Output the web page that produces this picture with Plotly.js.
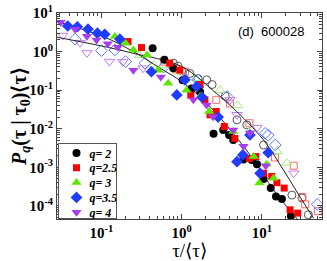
<!DOCTYPE html>
<html><head><meta charset="utf-8">
<script src="https://cdn.plot.ly/plotly-3.0.1.min.js"></script>
<style>html,body{margin:0;padding:0;background:#fff}</style>
</head><body><div id="chart" style="width:327px;height:261px"></div>
<script>
// filled markers (lower curve)
var q2x = [0.435,0.61,0.787,1.03,1.33,1.7,2.5,3.3,3.9,4.4,5.9,7.5,8.7,10.5,12.9,15,17.8,23];
var q2y = [1.22,0.61,0.37,0.18,0.11,0.091,0.0074,0.0093,0.0069,0.0051,0.0016,0.00155,0.0012,5e-4,2.9e-4,1.75e-4,1.5e-4,5.5e-5];
var q25x = [0.215,0.316,0.71,0.95,1.3,1.7,1.95,2.26,2.7,3.4,4.6,7,8.4,10.5,13.3,15.4,19,22.5,28];
var q25y = [1.82,1.27,0.5,0.33,0.074,0.14,0.056,0.023,0.028,0.0114,0.0056,0.0017,0.0019,7e-4,5.8e-4,4e-4,2.9e-4,7.9e-5,6.5e-5];
var q3x = [0.147,0.2,0.25,0.37,0.51,0.68,1.15,1.7,2.2,4.4,7.9,9.3,11.5,14];
var q3y = [2.45,1.64,1.1,0.82,0.33,0.15,0.1,0.068,0.028,0.0085,0.0019,3.9e-4,0.0012,5.2e-4];
var q35x = [0.038,0.05,0.068,0.089,0.11,0.17,0.42,0.87,1.1,1.54,1.8,2.85,4.9,5.8,7.1,9.5,12];
var q35y = [4.6,4.4,3.8,3.0,2.8,2.1,0.30,0.075,0.185,0.124,0.065,0.02,0.0014,0.0021,0.0069,7e-4,0.0024];
var q4x = [0.031,0.047,0.066,0.087,0.12,0.16,0.25,0.55,1.4,2.05,2.46,4.4,5.9,7.1,11.2];
var q4y = [5.8,3.8,2.5,2.0,1.6,1.3,0.33,0.22,0.056,0.041,0.0205,0.0093,0.0035,0.0078,0.0011];
// open markers (upper curve)
var o2x = [0.79,0.9,1.0,1.27,1.6,2.05,2.4,3.5,4.9,6.5,10.5,23.7,31.6,38];
var o2y = [0.5,0.42,0.32,0.27,0.2,0.185,0.14,0.07,0.017,0.0126,0.0038,1.9e-4,1.6e-4,5.9e-5];
var o25x = [0.6,0.85,1.1,2.7,4.0,7,14.6,25,32,34.7,50];
var o25y = [0.55,0.35,0.3,0.056,0.045,0.0139,0.0018,0.0011,1.7e-4,1.1e-4,7.3e-5];
var o3x = [0.3,0.45,0.6,0.9,1.5,3,5,7.5,15.4,20.6];
var o3y = [0.8,0.45,0.45,0.3,0.2,0.1,0.04,0.01,0.0026,0.0013];
var o35x = [0.047,0.1,0.147,0.2,0.35,0.6,1.6,3.7,11,12,14.7,49];
var o35y = [2.1,1.06,1.1,0.55,0.5,0.4,0.185,0.068,0.0076,0.0068,0.0038,1.1e-4];
var o4x = [0.033,0.054,0.066,0.126,0.185,0.33,4,4.9,8.7,25];
var o4y = [2.6,1.7,0.92,0.55,0.54,0.37,0.056,0.023,0.0107,7e-4];
// fit curves
var fitUx = [0.028,0.1,0.25,1,2.7,4.4,10.5,18.6,30,44];
var fitUy = [2.35,1.4,0.9,0.41,0.083,0.034,0.0051,8.5e-4,1.7e-4,4.8e-5];
var fitLx = [0.028,0.105,0.25,0.54,1,2.05,4.4,7.9,14,28];
var fitLy = [6.0,2.45,1.0,0.37,0.167,0.046,0.0076,0.00155,2.6e-4,4.4e-5];
var legendNames = ['q= 2','q=2.5','q= 3','q=3.5','q= 4'];
var yTickVals = [1e-4,1e-3,1e-2,1e-1,1,10];
var yTickText = ['10<sup>-4</sup>','10<sup>-3</sup>','10<sup>-2</sup>','10<sup>-1</sup>','10<sup>0</sup>','10<sup>1</sup>'];
var xTickVals = [0.1,1,10];
var xTickText = ['10<sup>-1</sup>','10<sup>0</sup>','10<sup>1</sup>'];

function minorVals(d0,d1){var v=[];for(var d=d0;d<=d1;d++){for(var k=2;k<=9;k++){v.push(k*Math.pow(10,d));}}return v;}

var colsF = ['#000000','#ff0000','#5ce600','#1f3cff','#a83cf0'];
var colsO = ['#555555','#ff6b6b','#a6ee80','#5a78ff','#c27af2'];
var symF = ['circle','square','triangle-up','diamond','triangle-down'];
var symO = ['circle-open','square-open','triangle-up-open','diamond-open','triangle-down-open'];
var sizes = [8,7,9,9,9];
var FX=[q2x,q25x,q3x,q35x,q4x], FY=[q2y,q25y,q3y,q35y,q4y];
var OX=[o2x,o25x,o3x,o35x,o4x], OY=[o2y,o25y,o3y,o35y,o4y];

var traces=[];
for(var i=0;i<5;i++){
  traces.push({x:OX[i],y:OY[i],mode:'markers',type:'scatter',showlegend:false,
    marker:{symbol:symO[i],size:sizes[i],color:colsO[i],line:{width:1,color:colsO[i]}}});
}
traces.push({x:fitUx,y:fitUy,mode:'lines',line:{color:'#222',width:1,shape:'spline'},showlegend:false});
traces.push({x:fitLx,y:fitLy,mode:'lines',line:{color:'#222',width:1,shape:'spline'},showlegend:false});
for(var i=0;i<5;i++){
  traces.push({x:FX[i],y:FY[i],mode:'markers',type:'scatter',name:'<b><i>'+legendNames[i]+'</i></b>',
    marker:{symbol:symF[i],size:sizes[i],color:colsF[i],line:{width:0}}});
}

var axisCommon = {type:'log',showgrid:false,zeroline:false,showline:true,linecolor:'#444',linewidth:1,mirror:'ticks',
  ticks:'inside',ticklen:5,tickcolor:'#444',tickmode:'array',
  tickfont:{family:'Liberation Serif',size:15,color:'#000',weight:'bold'}};

var layout = {
  width:327,height:261,margin:{l:57,r:5,t:13,b:42},
  paper_bgcolor:'#fff',plot_bgcolor:'#fff',
  xaxis:Object.assign({},axisCommon,{range:[-1.554,1.75],tickvals:xTickVals,ticktext:xTickText,
    minor:{tickmode:'array',tickvals:minorVals(-2,1),ticks:'inside',ticklen:3,tickcolor:'#444'},
    title:{text:'τ/⟨τ⟩',font:{family:'Liberation Serif',size:19,color:'#000'},standoff:0}}),
  yaxis:Object.assign({},axisCommon,{range:[-4.34,1.0],tickvals:yTickVals,ticktext:yTickText,
    minor:{tickmode:'array',tickvals:minorVals(-5,0),ticks:'inside',ticklen:3,tickcolor:'#444'}}),
  legend:{x:0.002,y:0.005,xanchor:'left',yanchor:'bottom',bordercolor:'#555',borderwidth:1,bgcolor:'#fff',
    font:{family:'Liberation Serif',size:12,color:'#000'},tracegroupgap:0,itemwidth:30},
  annotations:[
    {text:'(d)  600028',xref:'paper',yref:'paper',x:0.81,y:0.91,xanchor:'center',yanchor:'middle',showarrow:false,
     font:{family:'Liberation Sans',size:13,color:'#000'}},
    {text:'<b><i>P</i><sub><i>q</i></sub>(τ | τ<sub>0</sub>)⟨τ⟩</b>',xref:'paper',yref:'paper',x:-0.14,y:0.5,
     xanchor:'center',yanchor:'middle',textangle:-90,showarrow:false,
     font:{family:'Liberation Serif',size:20,color:'#000'}}
  ]
};
function tr(el){var m=/translate\(\s*([-\d.e]+)[ ,]+([-\d.e]+)\s*\)/.exec(el.getAttribute('transform')||'');return m?[+m[1],+m[2]]:[0,0];}
Plotly.newPlot('chart',traces,layout,{displayModeBar:false,staticPlot:true}).then(function(gd){
  var lg = gd.querySelector('g.legend'); if(!lg) return;
  var items = lg.querySelectorAll('g.traces');
  var bg = lg.querySelector('rect.bg');
  for(var i=0;i<items.length;i++){
    var t = tr(items[i]);
    items[i].setAttribute('transform','translate('+(t[0]-2)+','+(10+i*14.8)+')');
    var txt = items[i].querySelector('text.legendtext');
    if(txt){ txt.setAttribute('x', (+txt.getAttribute('x'))-7); }
  }
  if(bg){ bg.setAttribute('height',75); bg.setAttribute('width',58); }
  var cp = gd.querySelectorAll('clipPath[id^="legend"] rect');
  for(var j=0;j<cp.length;j++){ cp[j].setAttribute('height',75); cp[j].setAttribute('width',58); }
  lg.setAttribute('transform','translate(57.5,143)');
});
</script></body></html>
